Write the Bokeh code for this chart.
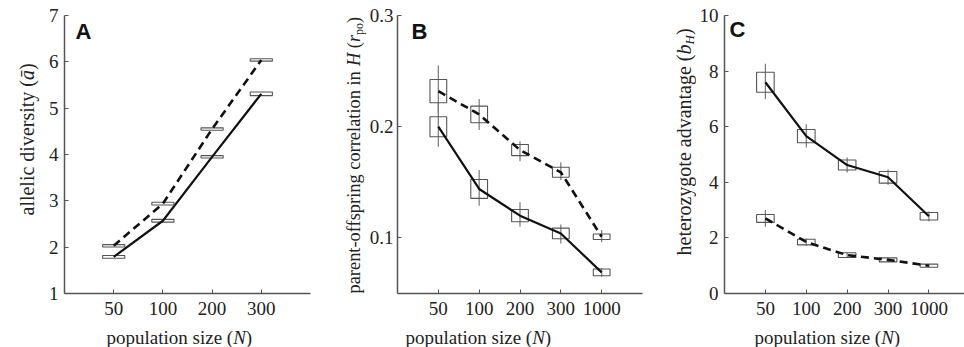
from math import pi
from bokeh.plotting import figure
from bokeh.layouts import row, column
from bokeh.models import FixedTicker, Label, Range1d
from bokeh.embed import file_html
from bokeh.resources import INLINE

# ---------------- data ----------------
# Panel A: allelic diversity
a_labels = ["50", "100", "200", "300"]
a_solid = [1.79, 2.57, 3.95, 5.31]
a_solid_h = [0.06, 0.06, 0.05, 0.08]
a_dashed = [2.03, 2.94, 4.55, 6.04]
a_dashed_h = [0.05, 0.06, 0.05, 0.05]

# Panel B: parent-offspring correlation
b_labels = ["50", "100", "200", "300", "1000"]
b_solid = [0.200, 0.144, 0.120, 0.104, 0.069]
b_solid_lo = [0.182, 0.129, 0.110, 0.095, 0.065]
b_solid_hi = [0.222, 0.161, 0.132, 0.112, 0.073]
b_solid_h = [0.018, 0.017, 0.011, 0.0096, 0.006]
b_dashed = [0.232, 0.211, 0.179, 0.159, 0.101]
b_dashed_lo = [0.212, 0.197, 0.169, 0.152, 0.096]
b_dashed_hi = [0.255, 0.225, 0.187, 0.168, 0.107]
b_dashed_h = [0.021, 0.015, 0.010, 0.009, 0.005]

# Panel C: heterozygote advantage
c_labels = ["50", "100", "200", "300", "1000"]
c_solid = [7.60, 5.66, 4.62, 4.18, 2.78]
c_solid_lo = [6.99, 5.25, 4.35, 3.91, 2.60]
c_solid_hi = [8.26, 6.09, 4.89, 4.46, 2.95]
c_solid_h = [0.72, 0.48, 0.36, 0.42, 0.27]
c_dashed = [2.70, 1.85, 1.38, 1.21, 1.00]
c_dashed_lo = [2.40, 1.72, 1.30, 1.15, 0.95]
c_dashed_hi = [3.00, 1.98, 1.46, 1.27, 1.05]
c_dashed_h = [0.28, 0.20, 0.17, 0.145, 0.11]

# ---------------- helpers ----------------
SERIF = "Liberation Serif"
PAGE_H = 347
TOP_H = 324
FRAME_TOP, FRAME_BOT = 15, 293
BOT_H = PAGE_H - TOP_H
REG = {' ': 250, '(': 333, ')': 333, '-': 333, 'a': 444, 'b': 500, 'c': 444, 'd': 500,
       'e': 444, 'f': 333, 'g': 500, 'h': 500, 'i': 278, 'l': 278, 'n': 500, 'o': 500,
       'p': 500, 'r': 333, 's': 389, 't': 278, 'u': 500, 'v': 500, 'y': 500, 'z': 444,
       'H': 722, 'N': 722}
ITA = {'H': 722, 'r': 389, 'b': 500, 'N': 667, 'ā': 500, 'a': 500}


def tw(s, italic, size):
    tab = ITA if italic else REG
    return sum(tab.get(ch, REG.get(ch, 500)) for ch in s) / 1000.0 * size


def blank(width, height, y_range):
    f = figure(width=width, height=height, x_range=Range1d(0, width), y_range=Range1d(*y_range),
               output_backend="svg", toolbar_location=None, x_axis_type=None, y_axis_type=None,
               min_border_left=0, min_border_right=0, min_border_top=0, min_border_bottom=0)
    f.outline_line_color = None
    f.grid.visible = False
    f.background_fill_color = "white"
    f.border_fill_color = "white"
    return f


def rich(f, pieces, x0, y0, fs, vertical):
    """Place text pieces one after another (spaces become explicit advances)."""
    cur = 0.0
    for text, italic, scale, shift in pieces:
        size = fs * scale
        core = text.strip(" ")
        lead = len(text) - len(text.lstrip(" "))
        pos = cur + tw(" " * lead, False, size)
        if core:
            if vertical:
                lab = Label(x=x0 + shift * fs, y=y0 + pos, angle=pi / 2, text=core,
                            text_align="left", text_baseline="alphabetic")
            else:
                lab = Label(x=x0 + pos, y=y0 - shift * fs, text=core,
                            text_align="left", text_baseline="alphabetic")
            lab.text_font = SERIF
            lab.text_font_size = f"{size:.1f}px"
            lab.text_font_style = "italic" if italic else "normal"
            lab.text_color = "#222222"
            f.add_layout(lab)
        cur += tw(text, italic, size)


def panel(width, mbl, mbr, xr, yr, yticks, xlabels, letter, letter_dx, letter_dy, ystand=6):
    p = figure(width=width, height=TOP_H, x_range=Range1d(*xr), y_range=Range1d(*yr),
               output_backend="svg", toolbar_location=None,
               min_border_left=mbl, min_border_right=mbr, min_border_top=FRAME_TOP,
               min_border_bottom=TOP_H - FRAME_BOT)
    p.outline_line_color = None
    p.grid.visible = False
    p.background_fill_color = "white"
    p.border_fill_color = "white"
    for ax in (p.xaxis[0], p.yaxis[0]):
        ax.axis_line_color = "#555555"
        ax.axis_line_width = 1.5
        ax.major_tick_line_color = "#555555"
        ax.major_tick_in = 4
        ax.major_tick_out = 0
        ax.minor_tick_line_color = None
        ax.major_label_text_font = SERIF
        ax.major_label_text_font_size = "19px"
        ax.major_label_text_color = "#222222"
    n = len(xlabels)
    p.xaxis.ticker = FixedTicker(ticks=list(range(1, n + 1)))
    p.xaxis.major_label_overrides = {i + 1: s for i, s in enumerate(xlabels)}
    p.xaxis.major_label_standoff = 8
    p.yaxis.ticker = FixedTicker(ticks=yticks)
    p.yaxis.major_label_standoff = ystand
    lab = Label(x=xr[0], y=yr[1], x_offset=letter_dx, y_offset=letter_dy, text=letter,
                text_font="Liberation Sans", text_font_style="bold", text_font_size="22px",
                text_align="left", text_baseline="top", text_color="#111111")
    p.add_layout(lab)
    return p


def series(p, xs, ys, hs, lo, hi, w, dashed):
    if lo is not None:
        p.segment(x0=xs, y0=lo, x1=xs, y1=hi, line_color="#777777", line_width=1.2)
    p.rect(x=xs, y=ys, width=w, height=hs, fill_alpha=0, line_color="#555555", line_width=1.1)
    if dashed:
        p.line(xs, ys, line_color="#111111", line_width=2.6, line_dash="8 5")
    else:
        p.line(xs, ys, line_color="#111111", line_width=2.2)


# blank label strips share the frame rows of the panels (frame 15..293)
ROW_YR = (TOP_H - FRAME_BOT, TOP_H - FRAME_TOP)

# ---------------- panel A ----------------
ya = blank(45, TOP_H, ROW_YR)
rich(ya, [("allelic diversity (", False, 1, 0), ("ā", True, 1, 0), (")", False, 1, 0)],
     26, TOP_H - 215, 20, True)
pa = panel(285, 18, 20, (0, 5), (1, 7), [1, 2, 3, 4, 5, 6, 7], a_labels, "A", 11, -3)
xa = list(range(1, len(a_labels) + 1))
series(pa, xa, a_solid, a_solid_h, None, None, 0.45, False)
series(pa, xa, a_dashed, a_dashed_h, None, None, 0.45, True)

# ---------------- panel B ----------------
yb = blank(36, TOP_H, ROW_YR)
rich(yb, [("parent-offspring correlation in ", False, 1, 0), ("H", True, 1, 0),
          (" (", False, 1, 0), ("r", True, 1, 0), ("po", False, 0.65, 0.3), (")", False, 1, 0)],
     23, TOP_H - 293, 18.4, True)
pb = panel(284, 28, 8, (0, 6), (0.05, 0.3), [0.1, 0.2, 0.3], b_labels, "B", 14, -3, ystand=4)
xb = list(range(1, len(b_labels) + 1))
series(pb, xb, b_solid, b_solid_h, b_solid_lo, b_solid_hi, 0.41, False)
series(pb, xb, b_dashed, b_dashed_h, b_dashed_lo, b_dashed_hi, 0.41, True)

# ---------------- panel C ----------------
yc = blank(46, TOP_H, ROW_YR)
rich(yc, [("heterozygote advantage (", False, 1, 0), ("b", True, 1, 0),
          ("H", True, 0.65, 0.3), (")", False, 1, 0)],
     33, TOP_H - 255, 20, True)
pc = panel(268, 26, 0, (0, 5.87), (0, 10), [0, 2, 4, 6, 8, 10], c_labels, "C", 5, -1)
xc = list(range(1, len(c_labels) + 1))
series(pc, xc, c_solid, c_solid_h, c_solid_lo, c_solid_hi, 0.43, False)
series(pc, xc, c_dashed, c_dashed_h, c_dashed_lo, c_dashed_hi, 0.43, True)

# ---------------- x labels ----------------
xl = blank(964, BOT_H, (0, BOT_H))
for start in (106, 405, 754):
    rich(xl, [("population size (", False, 1, 0), ("N", True, 1, 0), (")", False, 1, 0)],
         start, 10, 19, False)

layout = column(row(ya, pa, yb, pb, yc, pc, spacing=0), xl, spacing=0)
open("out.html", "w").write(file_html(layout, INLINE))
